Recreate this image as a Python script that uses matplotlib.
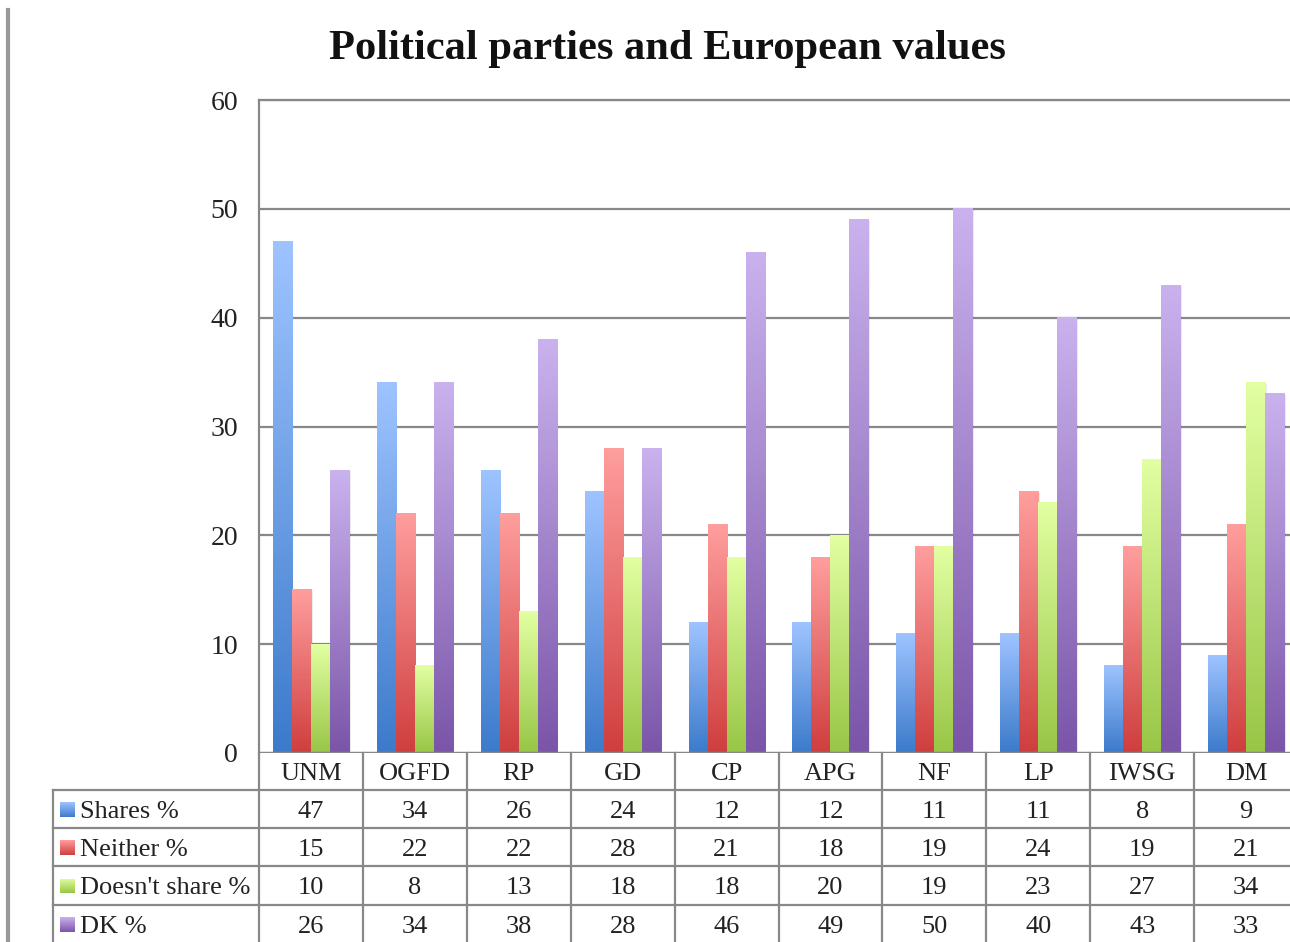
"""
Political parties and European values - grouped bar chart with data table
"""

import numpy as np
import matplotlib
matplotlib.use("Agg")
import matplotlib.pyplot as plt
from matplotlib.colors import LinearSegmentedColormap
from matplotlib.patches import Rectangle
from matplotlib.lines import Line2D

# ---------------- DATA ----------------
parties = ["UNM", "OGFD", "RP", "GD", "CP", "APG", "NF", "LP", "IWSG", "DM"]
series_names = ["Shares %", "Neither %", "Doesn't share %", "DK %"]
shares = [47, 34, 26, 24, 12, 12, 11, 11, 8, 9]
neither = [15, 22, 22, 28, 21, 18, 19, 24, 19, 21]
doesnt_share = [10, 8, 13, 18, 18, 20, 19, 23, 27, 34]
dk = [26, 34, 38, 28, 46, 49, 50, 40, 43, 33]
y_ticks = [0, 10, 20, 30, 40, 50, 60]

# top (light) / bottom (dark) colours of each gradient
grad_colors = [("#9ec4ff", "#3c7acb"),
               ("#ff9e9e", "#cf3e3e"),
               ("#e2ffa2", "#98c646"),
               ("#cab2ee", "#7a55a8")]

W, H = 1290, 942
FONT = "Liberation Serif"
GRID = "#888888"
TXT = "#222222"


def fx(px):
    return px / W


def fy(py):
    return 1 - py / H


def main():
    plt.rcParams["font.family"] = FONT
    fig = plt.figure(figsize=(W / 100, H / 100), dpi=100)

    # plot area runs past the right edge of the picture (it is cropped)
    left, right, top, bottom = 259, 1298, 100, 753
    ax = fig.add_axes([fx(left), fy(bottom), fx(right - left), (bottom - top) / H])

    values = [shares, neither, doesnt_share, dk]
    n = len(parties)
    bw = 0.183
    offsets = [-1.5 * bw, -0.5 * bw, 0.5 * bw, 1.5 * bw]
    grad = np.linspace(1, 0, 256).reshape(-1, 1)

    for vals, off, (c_top, c_bot) in zip(values, offsets, grad_colors):
        cmap = LinearSegmentedColormap.from_list("g", [c_bot, c_top])
        for i, v in enumerate(vals):
            x0 = i + 0.5 + off - bw / 2
            # soft shadow on the right side
            ax.add_patch(Rectangle((x0 + 0.015, 0), bw, v - 0.1,
                                   facecolor="#000000", alpha=0.08,
                                   edgecolor="none", zorder=2))
            ax.imshow(grad, cmap=cmap, extent=[x0, x0 + bw, 0, v],
                      aspect="auto", zorder=3, interpolation="bilinear")

    ax.set_xlim(0, n)
    ax.set_ylim(0, 60)
    ax.set_yticks(y_ticks)
    ax.set_yticklabels([str(t) for t in y_ticks], fontsize=20, color=TXT)
    ax.tick_params(axis="y", length=0, pad=15)
    ax.set_xticks([])
    for yv in y_ticks[1:]:
        ax.axhline(yv, color=GRID, lw=1.6, zorder=1)
    for side in ["right", "bottom"]:
        ax.spines[side].set_visible(False)
    ax.spines["left"].set_color(GRID)
    ax.spines["left"].set_linewidth(1.6)
    ax.spines["top"].set_color(GRID)
    ax.spines["top"].set_linewidth(1.6)
    ax.axhline(0, color=GRID, lw=2.5, zorder=4)

    fig.text(fx(667), fy(49), "Political parties and European values",
             ha="center", va="center", fontsize=30.6, fontweight="bold",
             color="#111111")

    # page border on the left
    fig.add_artist(Line2D([fx(8), fx(8)], [fy(10), fy(942)], color="#999999",
                          lw=3, transform=fig.transFigure))

    # ---------------- DATA TABLE ----------------
    col_w = (right - left) / n
    row_top = [753, 790, 828, 866, 905]
    row_bot = [790, 828, 866, 905, 950]
    tbl_left = 53

    def hline(x0, x1, y):
        fig.add_artist(Line2D([fx(x0), fx(x1)], [fy(y), fy(y)], color=GRID,
                              lw=1.6, transform=fig.transFigure))

    def vline(x, y0, y1):
        fig.add_artist(Line2D([fx(x), fx(x)], [fy(y0), fy(y1)], color=GRID,
                              lw=1.6, transform=fig.transFigure))

    for y in row_top[1:]:
        hline(tbl_left, W + 10, y)
    vline(tbl_left, 790, 950)
    for k in range(n + 1):
        vline(left + k * col_w, 753, 950)

    for k, p in enumerate(parties):
        fig.text(fx(left + (k + 0.5) * col_w), fy(774), p, ha="center",
                 va="center", fontsize=19, color=TXT)

    for r, (name, vals, (c_top, c_bot)) in enumerate(zip(series_names, values, grad_colors)):
        yc = (row_top[r + 1] + row_bot[r + 1]) / 2
        if r == 3:
            yc = 924
        cmap = LinearSegmentedColormap.from_list("g", [c_bot, c_top])
        kax = fig.add_axes([fx(60), fy(yc + 8), 15 / W, 15 / H])
        kax.imshow(grad, cmap=cmap, aspect="auto", interpolation="bilinear")
        kax.axis("off")
        fig.text(fx(80), fy(yc + 3), name, ha="left", va="center", fontsize=19,
                 color=TXT)
        for k, v in enumerate(vals):
            fig.text(fx(left + (k + 0.5) * col_w), fy(yc + 3), str(v),
                     ha="center", va="center", fontsize=19, color=TXT)

    fig.savefig("out.png", dpi=100)
    plt.close("all")


if __name__ == "__main__":
    main()
